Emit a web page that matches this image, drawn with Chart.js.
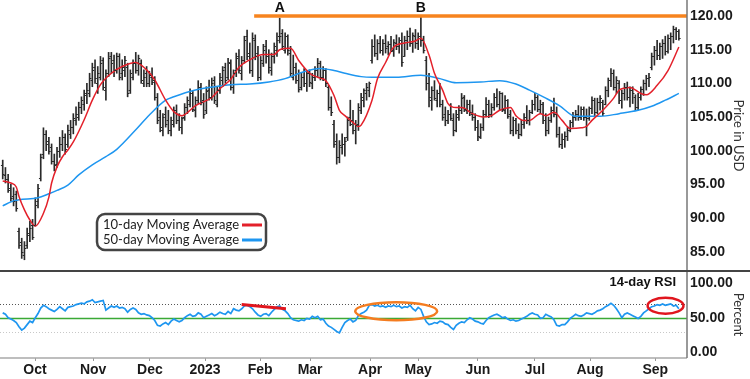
<!DOCTYPE html>
<html>
<head>
<meta charset="utf-8">
<script src="https://cdn.jsdelivr.net/npm/chart.js@4.4.0/dist/chart.umd.min.js"></script>
<style>
  body { margin: 0; background: #fff; }
</style>
</head>
<body>
<canvas id="chart" width="750" height="379"></canvas>
<script>
// daily bars, mid Sep 2022 to mid Sep 2023 (x = trading day index)
var opens = [
  97.8,96.4,95.8,94.5,93.2,93.5,88.0,86.5,84.5,86.0,
  87.5,89.0,89.0,92.5,96.0,99.5,102.5,101.5,100.5,98.5,
  98.0,100.0,101.0,102.0,101.0,102.5,103.5,104.5,105.0,106.5,
  107.0,108.5,108.5,110.5,112.5,110.0,111.0,113.5,109.0,111.5,
  114.0,113.5,112.0,114.0,111.5,112.0,112.5,109.0,111.0,113.0,
  112.0,113.0,110.0,111.5,110.0,111.0,110.5,108.0,105.0,103.0,
  105.5,104.5,103.0,104.0,106.0,104.5,103.5,105.0,106.5,107.0,
  108.5,106.0,107.5,109.5,107.5,106.0,109.0,108.0,110.5,107.0,
  109.0,110.5,112.5,111.0,113.0,109.5,112.0,114.0,111.5,113.5,
  117.0,114.5,112.0,116.5,114.5,111.0,113.0,115.5,114.0,112.0,
  114.0,115.0,117.0,117.5,115.0,117.0,114.5,111.0,112.5,110.5,
  109.5,111.0,110.0,111.5,110.0,111.0,112.0,113.0,111.0,112.0,
  109.5,106.5,104.0,101.5,99.0,100.5,101.0,102.0,105.0,104.5,
  103.0,104.0,106.0,107.5,108.5,109.0,113.5,115.5,114.5,116.0,
  115.0,116.0,115.5,115.8,115.0,116.0,115.5,116.5,114.0,116.5,
  117.0,116.0,117.0,116.0,117.0,116.5,113.5,110.0,107.5,109.0,
  107.5,108.5,107.0,105.5,104.5,105.5,104.5,103.0,105.0,106.0,
  108.0,106.0,107.0,105.5,105.0,103.5,102.0,103.5,105.5,107.0,
  105.5,106.5,108.0,107.0,108.5,106.0,107.5,105.5,103.0,104.5,
  103.0,102.5,104.0,105.0,104.5,105.8,107.0,108.0,106.2,107.0,
  104.5,103.0,104.5,106.0,105.5,102.5,101.0,101.8,102.2,103.0,
  104.2,105.0,105.5,105.0,106.2,105.0,104.8,106.3,107.5,105.8,
  107.2,107.2,107.0,109.0,110.5,111.5,109.5,110.0,107.5,108.5,
  109.5,108.0,109.0,108.0,106.5,108.0,109.2,110.0,110.8,112.5,
  114.0,115.0,114.2,115.5,116.0,114.8,116.8,117.0,118.0,117.8
];
var highs = [
  98.6,97.5,96.5,95.0,94.5,94.0,88.5,87.0,86.5,88.5,
  89.5,89.8,93.0,95.0,99.5,103.4,103.0,102.0,101.0,99.5,
  100.5,102.0,103.0,102.5,103.8,104.5,105.5,106.5,107.2,108.0,
  109.0,110.0,111.5,113.0,113.5,112.5,114.0,113.8,112.0,114.6,
  114.6,114.2,114.5,114.4,113.5,114.0,113.0,112.0,113.5,114.6,
  114.2,113.5,112.0,112.5,111.8,112.3,111.0,108.5,106.0,105.5,
  106.5,106.0,105.0,106.5,106.8,105.5,105.0,107.0,108.0,109.2,
  108.8,108.0,110.4,110.0,108.5,109.5,110.5,110.8,111.0,109.5,
  111.5,112.5,113.0,113.7,113.5,112.0,114.5,115.0,114.0,117.0,
  117.9,116.0,117.5,117.2,115.5,114.0,115.8,116.4,115.0,114.5,
  116.0,117.5,119.7,118.0,117.5,117.2,115.5,114.2,113.0,112.0,
  111.5,112.2,111.8,112.0,111.5,112.5,113.7,113.3,112.5,112.2,
  109.7,108.0,104.5,102.5,101.5,102.5,102.0,105.0,107.5,106.0,
  104.5,107.0,108.5,109.2,110.0,110.2,116.5,117.2,116.5,117.0,
  116.5,117.2,116.2,117.0,116.5,117.2,116.8,117.5,117.0,117.8,
  118.2,117.5,118.0,117.5,119.8,117.0,114.0,111.5,109.5,110.4,
  109.0,110.0,107.5,106.5,106.0,107.0,105.5,106.0,106.7,108.5,
  108.2,107.5,107.5,106.8,105.5,104.5,104.0,106.0,107.9,107.5,
  107.0,108.5,109.2,108.8,108.6,108.2,107.6,106.0,105.0,104.8,
  104.0,104.5,105.5,106.7,106.0,107.5,108.5,108.2,107.5,107.2,
  105.5,105.0,106.5,107.8,106.5,103.5,102.5,102.8,103.5,104.5,
  105.7,106.0,106.7,106.5,106.5,106.2,106.5,108.0,107.8,107.8,
  108.2,107.5,109.5,110.8,112.2,112.0,111.0,110.4,109.0,110.0,
  110.2,109.5,109.5,108.3,108.5,109.5,110.5,111.2,111.5,114.5,
  115.5,116.4,116.0,116.5,117.0,117.2,117.5,118.5,118.3,118.0
];
var lows = [
  95.8,95.2,93.8,92.5,91.8,91.0,85.5,84.0,83.8,85.5,
  86.5,86.8,88.8,91.5,95.5,98.8,100.0,99.5,98.0,97.0,
  97.5,99.0,100.0,99.5,100.5,101.8,102.5,103.8,104.5,105.5,
  106.0,107.0,108.0,109.5,110.0,108.5,110.5,109.0,107.5,111.0,
  111.5,111.0,111.5,110.5,110.5,111.0,108.0,108.5,110.5,111.5,
  111.2,110.0,109.5,109.5,109.5,109.8,107.5,104.0,102.8,102.2,
  103.5,102.5,102.2,103.5,104.0,103.0,102.5,104.5,105.5,106.5,
  105.8,105.0,107.0,106.8,104.8,105.5,107.5,107.5,107.0,106.5,
  108.5,109.5,110.0,110.5,109.0,108.5,111.0,111.5,110.5,113.0,
  113.5,111.5,111.0,113.5,110.4,110.5,112.5,113.0,111.5,111.2,
  113.0,114.0,116.0,115.0,114.5,114.2,111.0,110.5,110.0,108.7,
  109.0,109.5,108.8,109.5,109.2,110.4,111.0,110.5,110.4,109.5,
  106.0,105.2,100.5,98.0,98.2,99.5,99.2,101.5,103.7,102.5,
  101.0,103.0,105.5,106.5,107.5,108.0,113.0,114.0,113.5,114.5,
  114.2,114.5,114.2,114.8,114.0,115.0,114.5,112.5,114.0,115.0,
  115.5,114.6,115.2,115.0,115.5,114.5,109.0,106.5,106.0,107.5,
  106.5,106.5,104.5,103.7,104.0,104.5,102.2,102.8,104.5,105.5,
  105.8,105.5,105.2,104.5,103.0,101.5,101.8,103.0,105.0,104.9,
  105.0,106.0,106.5,106.0,105.8,105.5,104.8,102.5,102.2,102.5,
  101.8,102.2,103.3,104.0,103.8,105.5,106.0,105.8,105.5,104.0,
  102.2,102.5,104.2,105.0,102.0,100.5,100.3,100.5,101.5,102.8,
  103.5,104.5,104.5,104.6,104.5,102.2,104.5,105.5,105.2,105.5,
  106.0,105.2,106.8,108.0,109.5,109.0,108.5,107.0,106.3,107.5,
  107.5,106.5,107.0,106.0,106.0,107.5,108.2,109.0,109.5,112.0,
  112.7,113.5,113.5,113.7,114.2,114.5,115.0,116.0,116.5,116.4
];
var closes = [
  96.5,95.8,94.2,93.0,92.5,91.5,86.0,85.0,85.5,87.8,
  88.5,87.2,92.0,94.5,99.0,102.5,101.0,100.0,98.5,97.8,
  100.0,101.0,102.0,100.2,103.0,103.5,104.8,105.5,106.5,107.5,
  108.2,109.0,110.8,112.0,110.8,111.5,113.0,109.5,111.5,113.8,
  113.0,112.0,114.0,111.0,112.5,113.5,108.5,111.5,113.0,112.0,
  113.8,110.5,111.0,110.0,111.2,110.2,108.0,104.5,103.5,105.0,
  104.0,103.0,104.5,106.0,104.5,103.5,104.8,106.5,107.5,108.5,
  106.2,107.5,109.5,107.2,105.5,108.8,108.0,110.0,107.5,109.0,
  111.0,112.0,110.5,113.2,109.5,111.5,113.8,112.0,113.5,116.5,
  114.0,112.0,116.8,114.0,111.0,113.5,115.0,114.0,112.5,114.0,
  115.5,116.5,117.0,115.5,117.0,115.0,111.5,112.5,110.5,109.2,
  111.0,110.0,111.5,110.2,111.0,112.0,113.0,111.0,112.0,110.0,
  106.5,105.8,101.0,99.0,100.8,101.0,101.5,104.5,104.0,103.0,
  103.8,106.5,108.0,109.0,109.5,110.0,115.5,114.5,116.0,115.0,
  116.0,115.2,115.8,114.8,116.2,115.5,116.5,113.2,116.5,117.0,
  116.0,117.2,116.0,117.0,116.5,115.0,110.0,108.0,109.0,107.8,
  108.5,107.0,105.0,104.5,105.5,104.8,103.0,105.5,106.0,107.8,
  106.2,107.0,105.8,105.0,103.5,102.2,103.5,105.5,107.0,105.5,
  106.5,108.0,107.0,108.5,106.2,107.5,105.2,103.0,104.5,103.0,
  102.5,104.0,105.0,104.5,105.8,107.0,108.0,106.2,107.0,104.5,
  103.0,104.5,106.0,105.5,102.5,101.0,101.8,102.2,103.0,104.2,
  105.0,105.5,105.0,106.2,105.0,104.8,106.3,107.5,105.8,107.2,
  107.8,105.6,109.0,110.5,111.5,109.5,110.5,107.5,108.5,109.5,
  108.0,109.0,108.5,106.5,108.0,109.2,110.0,110.8,111.0,114.0,
  115.0,114.2,115.5,116.0,114.8,116.8,117.0,118.0,117.8,116.8
];

// moving averages (day index, value)
var ma10Idx = [0,3,5,6,8,10,12,15,17,18,20,22,24,26,30,33,36,40,44,49,53,56,60,63,66,71,77,80,84,87,91,96,100,102,106,109,113,116,119,122,124,126,129,131,132,136,138,141,144,148,152,154,157,159,162,164,167,169,173,177,180,183,187,189,192,194,198,200,203,206,209,213,215,217,221,225,227,231,235,237,241,245,249];
var ma10 = [95.5,95.2,94.6,93.2,91.2,89.7,88.8,90.7,93.1,95.2,97.6,99.1,100.1,101.3,104.6,107.5,109.8,111.5,112.5,113.1,112.0,110.5,107.5,105.8,105.2,106.7,107.9,109.2,110.6,112.4,113.5,114.3,114.3,115.0,115.2,113.4,111.5,110.9,110.4,108.2,106.0,105.2,104.2,103.6,103.8,107.5,110.7,113.1,115.4,116.0,116.3,116.7,114.2,111.5,109.0,107.0,106.4,106.4,105.5,105.0,105.2,106.0,106.4,105.2,104.5,104.5,105.5,105.2,105.7,104.5,103.3,103.4,103.6,104.5,106.0,107.8,109.0,109.4,108.5,108.3,109.7,111.9,115.4];
var ma50Idx = [0,3,6,13,17,20,24,28,33,38,42,49,54,60,63,71,78,84,91,98,104,110,117,122,126,132,136,145,154,161,167,176,183,189,194,200,205,211,220,227,234,239,244,249];
var ma50 = [91.8,92.4,92.7,93.0,93.6,94.1,94.9,96.4,97.9,99.1,100.2,103.1,105.3,107.5,108.0,109.0,109.5,109.8,109.9,110.2,110.7,111.6,112.2,111.9,111.5,111.0,110.9,110.9,111.2,110.7,110.1,110.2,110.4,109.9,109.0,107.8,106.7,105.1,105.1,105.5,106.0,106.6,107.5,108.5];

var rsi = [
  57,55,50,48,46,43,37,32,35,40,
  45,43,50,56,64,68,66,63,61,59,
  62,66,63,60,65,66,67,69,70,71,
  70,73,74,76,72,73,74,75,61,64,
  67,65,67,64,65,63,58,62,64,62,
  57,55,56,54,53,50,46,39,38,41,
  43,40,45,48,46,44,46,50,53,55,
  52,53,57,55,50,52,54,56,53,55,
  58,56,55,59,56,63,61,60,63,67,
  68,66,63,58,54,52,55,56,53,58,
  62,66,67,62,60,56,50,47,46,45,
  47,46,49,48,52,50,52,47,48,42,
  38,36,33,30,28,36,43,46,48,44,
  46,53,56,58,61,68,69,67,68,66,
  67,65,67,66,68,66,67,64,66,65,
  68,63,60,65,62,52,44,40,41,43,
  42,45,44,41,40,36,33,39,42,44,
  43,47,50,48,45,44,42,41,46,50,
  52,54,55,53,50,51,48,46,47,45,
  46,48,50,52,55,57,55,54,49,50,
  55,53,51,47,39,38,40,40,44,49,
  52,55,53,52,54,57,56,55,57,60,
  61,63,66,68,71,68,63,57,50,55,
  57,55,53,51,49,52,57,60,63,66,
  67,69,68,70,68,69,70,67,68,63
];

var monthLabels = ['Oct','Nov','Dec','2023','Feb','Mar','Apr','May','Jun','Jul','Aug','Sep'];
var monthPos = [11.9,33.3,54.2,74.5,94.8,113.2,135.3,153,175,196,216.3,240.3];
var priceTicks = [85,90,95,100,105,110,115,120];
var rsiTicks = [0,50,100];

var resistance = 120;
var resistanceFrom = 92.6;
var peakA = 102, peakB = 154;
var divergence = [{x: 88, y: 69}, {x: 104.3, y: 63}];
var orangeRing = {x: 144.9, y: 59.4, rx: 15.1, ry: 13};
var redRing = {x: 244.1, y: 67.4, rx: 6.6, ry: 11.5};

var bold14 = {family: '"Liberation Sans", Arial, sans-serif', size: 14, weight: 'bold'};

function pts(xs, ys) {
  return xs.map(function(x, i) { return {x: x, y: ys[i]}; });
}

function noPad(axis) {
  axis.paddingTop = 0;
  axis.paddingBottom = 0;
}

var ohlcTicks = {
  id: 'ohlcTicks',
  afterDatasetsDraw: function(chart) {
    var xs = chart.scales.x, ys = chart.scales.y, ctx = chart.ctx;
    ctx.save();
    ctx.strokeStyle = '#2a2a2a';
    ctx.lineWidth = 1;
    ctx.beginPath();
    for (var i = 0; i < closes.length; i++) {
      var x = xs.getPixelForValue(i);
      var yo = Math.round(ys.getPixelForValue(opens[i])) + 0.5;
      var yc = Math.round(ys.getPixelForValue(closes[i])) + 0.5;
      ctx.moveTo(x - 1.8, yo); ctx.lineTo(x, yo);
      ctx.moveTo(x, yc); ctx.lineTo(x + 1.8, yc);
    }
    ctx.stroke();
    ctx.restore();
  }
};

var decor = {
  id: 'decor',
  beforeDatasetsDraw: function(chart) {
    var ca = chart.chartArea, r = chart.scales.y2, ctx = chart.ctx;
    ctx.save();
    function hline(v, color, w, dash) {
      var y = Math.round(r.getPixelForValue(v)) + 0.5;
      ctx.beginPath();
      ctx.setLineDash(dash);
      ctx.strokeStyle = color;
      ctx.lineWidth = w;
      ctx.moveTo(ca.left, y);
      ctx.lineTo(ca.right, y);
      ctx.stroke();
    }
    hline(70, '#555', 1, [1, 2]);
    hline(30, '#c8c8c8', 1, [1, 2]);
    hline(50, '#3aa935', 1.5, []);
    ctx.restore();
  },
  afterDraw: function(chart) {
    var ca = chart.chartArea, xs = chart.scales.x, ys = chart.scales.y, r = chart.scales.y2, ctx = chart.ctx;
    ctx.save();
    // panel frame
    ctx.strokeStyle = '#a8a8a8';
    ctx.lineWidth = 1.5;
    ctx.beginPath();
    ctx.moveTo(ca.left, ca.bottom); ctx.lineTo(ca.right, ca.bottom);
    ctx.stroke();
    ctx.strokeStyle = '#777';
    ctx.beginPath();
    ctx.moveTo(ca.right, 0); ctx.lineTo(ca.right, ca.bottom);
    ctx.stroke();
    ctx.strokeStyle = '#444';
    ctx.lineWidth = 2;
    ctx.beginPath();
    ctx.moveTo(0, ys.bottom); ctx.lineTo(chart.width, ys.bottom);
    ctx.stroke();

    // A / B labels
    ctx.fillStyle = '#111';
    ctx.font = 'bold 14px "Liberation Sans", Arial, sans-serif';
    ctx.textAlign = 'center';
    ctx.textBaseline = 'middle';
    ctx.fillText('A', xs.getPixelForValue(peakA), ys.getPixelForValue(121.2));
    ctx.fillText('B', xs.getPixelForValue(peakB), ys.getPixelForValue(121.2));

    // RSI panel label
    ctx.font = 'bold 13px "Liberation Sans", Arial, sans-serif';
    ctx.textAlign = 'right';
    ctx.fillText('14-day RSI', 676, ys.bottom + 11);

    // rings
    function ring(o, color) {
      var cx = xs.getPixelForValue(o.x), cy = r.getPixelForValue(o.y);
      var rx = Math.abs(xs.getPixelForValue(o.x + o.rx) - cx);
      var ry = Math.abs(r.getPixelForValue(o.y + o.ry) - cy);
      ctx.beginPath();
      ctx.strokeStyle = color;
      ctx.lineWidth = 2.5;
      ctx.ellipse(cx, cy, rx, ry, 0, 0, Math.PI * 2);
      ctx.stroke();
    }
    ring(orangeRing, '#f47c20');
    ring(redRing, '#e0161e');

    // legend box
    var lx = 97, ly = 214, lw = 169, lh = 36, rad = 8;
    ctx.beginPath();
    ctx.moveTo(lx + rad, ly);
    ctx.arcTo(lx + lw, ly, lx + lw, ly + lh, rad);
    ctx.arcTo(lx + lw, ly + lh, lx, ly + lh, rad);
    ctx.arcTo(lx, ly + lh, lx, ly, rad);
    ctx.arcTo(lx, ly, lx + lw, ly, rad);
    ctx.closePath();
    ctx.fillStyle = '#fff';
    ctx.fill();
    ctx.strokeStyle = '#444';
    ctx.lineWidth = 2.5;
    ctx.stroke();
    ctx.fillStyle = '#222';
    ctx.font = '13px Lato, "Open Sans", sans-serif';
    ctx.textAlign = 'left';
    ctx.fillText('10-day Moving Average', lx + 6, ly + 11);
    ctx.fillText('50-day Moving Average', lx + 6, ly + 26);
    ctx.lineWidth = 3;
    ctx.strokeStyle = '#e3202a';
    ctx.beginPath(); ctx.moveTo(lx + 145, ly + 11); ctx.lineTo(lx + 165, ly + 11); ctx.stroke();
    ctx.strokeStyle = '#1e96f0';
    ctx.beginPath(); ctx.moveTo(lx + 145, ly + 26); ctx.lineTo(lx + 165, ly + 26); ctx.stroke();
    ctx.restore();
  }
};

var ctx = document.getElementById('chart').getContext('2d');
var myChart = new Chart(ctx, {
  type: 'bar',
  data: {
    datasets: [{
      label: 'High-Low',
      data: closes.map(function(c, i) { return {x: i, y: [lows[i], highs[i]]}; }),
      backgroundColor: '#2a2a2a',
      barThickness: 1,
      yAxisID: 'y',
      order: 6
    }, {
      type: 'line',
      label: '10-day Moving Average',
      data: pts(ma10Idx, ma10),
      borderColor: '#e3202a',
      borderWidth: 1.5,
      pointRadius: 0,
      cubicInterpolationMode: 'monotone',
      yAxisID: 'y',
      order: 3
    }, {
      type: 'line',
      label: '50-day Moving Average',
      data: pts(ma50Idx, ma50),
      borderColor: '#1e96f0',
      borderWidth: 1.5,
      pointRadius: 0,
      cubicInterpolationMode: 'monotone',
      yAxisID: 'y',
      order: 4
    }, {
      type: 'line',
      label: 'Resistance',
      data: [{x: resistanceFrom, y: resistance}, {x: 252, y: resistance}],
      borderColor: '#f7841e',
      borderWidth: 3.5,
      pointRadius: 0,
      yAxisID: 'y',
      order: 1
    }, {
      type: 'line',
      label: '14-day RSI',
      data: rsi.map(function(v, i) { return {x: i, y: v}; }),
      borderColor: '#1e96f0',
      borderWidth: 1.7,
      pointRadius: 0,
      yAxisID: 'y2',
      order: 2
    }, {
      type: 'line',
      label: 'Divergence',
      data: divergence,
      borderColor: '#e0161e',
      borderWidth: 3,
      pointRadius: 0,
      yAxisID: 'y2',
      order: 0
    }]
  },
  options: {
    responsive: false,
    animation: false,
    devicePixelRatio: 1,
    layout: {padding: 0},
    plugins: {legend: {display: false}, tooltip: {enabled: false}},
    scales: {
      x: {
        type: 'linear',
        min: -1,
        max: 252,
        offset: false,
        grid: {drawOnChartArea: false, drawTicks: true, tickLength: 3, color: '#999', offset: false},
        border: {display: false},
        afterBuildTicks: function(axis) {
          axis.ticks = monthPos.map(function(v) { return {value: v}; });
        },
        afterFit: function(axis) { axis.height = 21; axis.paddingLeft = 0; axis.paddingRight = 0; },
        ticks: {
          autoSkip: false,
          maxRotation: 0,
          padding: 1,
          color: '#1a1a1a',
          font: bold14,
          callback: function(v, i) { return monthLabels[i]; }
        }
      },
      y: {
        type: 'linear',
        position: 'right',
        stack: 'panels',
        stackWeight: 271,
        min: 82.13,
        max: 122.38,
        beginAtZero: false,
        grid: {display: false, drawTicks: false},
        border: {display: false},
        afterBuildTicks: function(axis) {
          axis.ticks = priceTicks.map(function(v) { return {value: v}; });
        },
        afterFit: function(axis) { axis.width = 63; noPad(axis); },
        ticks: {
          padding: 3,
          color: '#1a1a1a',
          font: bold14,
          callback: function(v) { return v.toFixed(2); }
        },
        title: {display: true, text: 'Price in USD', color: '#333', font: {family: 'Lato, "Open Sans", sans-serif', size: 13}, padding: {top: 4, bottom: 2}}
      },
      y2: {
        type: 'linear',
        position: 'right',
        stack: 'panels',
        stackWeight: 87,
        min: -8.4,
        max: 117.7,
        grid: {display: false, drawTicks: false},
        border: {display: false},
        afterBuildTicks: function(axis) {
          axis.ticks = rsiTicks.map(function(v) { return {value: v}; });
        },
        afterFit: function(axis) { axis.width = 63; noPad(axis); },
        ticks: {
          padding: 3,
          color: '#1a1a1a',
          font: bold14,
          callback: function(v) { return v.toFixed(2); }
        },
        title: {display: true, text: 'Percent', color: '#333', font: {family: 'Lato, "Open Sans", sans-serif', size: 13}, padding: {top: 4, bottom: 2}}
      }
    }
  },
  plugins: [ohlcTicks, decor]
});
</script>
</body>
</html>
